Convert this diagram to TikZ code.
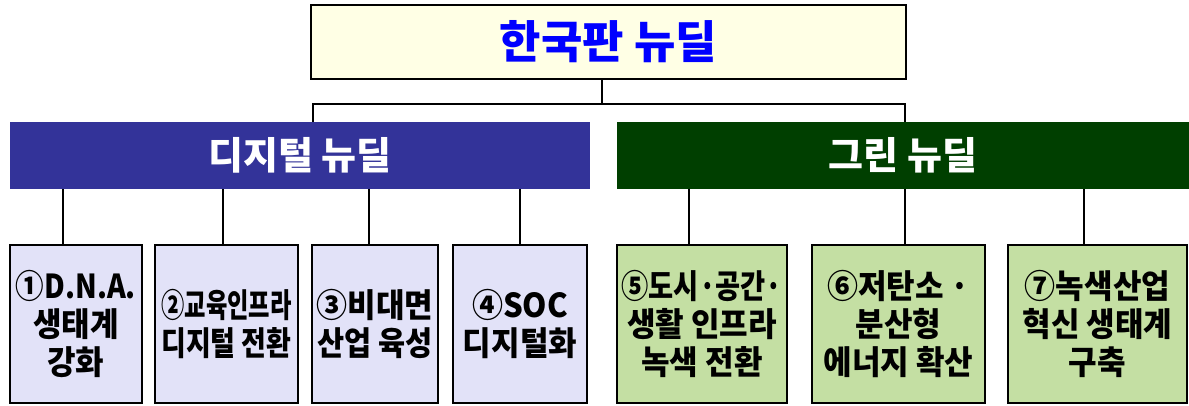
\documentclass[tikz,border=0pt]{standalone}
\usepackage{fontspec}
\setmainfont{Noto Sans CJK KR}
\newfontfamily\leaffont{Noto Sans CJK KR}[FakeStretch=0.94]
\definecolor{topfill}{HTML}{FFFFE5}
\definecolor{titleblue}{HTML}{0000FF}
\definecolor{digbar}{HTML}{333399}
\definecolor{grnbar}{HTML}{003F00}
\definecolor{lav}{HTML}{E2E2F8}
\definecolor{lgreen}{HTML}{C4DFA3}
\begin{document}
\begin{tikzpicture}[x=1pt,y=-1pt,
  topbox/.style={draw=black, line width=2pt, fill=topfill, minimum width=595, minimum height=74,
    inner sep=0, text=titleblue, font=\fontsize{45}{50}\selectfont\bfseries},
  bar/.style={minimum height=67, inner sep=0, text=white, font=\fontsize{38}{42}\selectfont\bfseries},
  leaf/.style={draw=black, line width=2pt, minimum height=158, inner sep=0, align=center,
    font=\leaffont\fontsize{33}{38}\selectfont\bfseries},
  dleaf/.style={leaf, fill=lav},
  gleaf/.style={leaf, fill=lgreen},
  link/.style={draw=black, line width=2pt}
]
\useasboundingbox (0,0) rectangle (1189,405);
\fill[white] (0,0) rectangle (1189,405);

\node[topbox] (top) at (608.5,42) {한국판 뉴딜};
\node[bar, fill=digbar, minimum width=580] (dig) at (300,155.5) {디지털 뉴딜};
\node[bar, fill=grnbar, minimum width=572] (grn) at (903,155.5) {그린 뉴딜};

\node[dleaf, minimum width=132] (c1) at (76,324) {\scalebox{0.92}[1]{①D.N.A.}\\생태계\\강화};
\node[dleaf, minimum width=143] (c2) at (226.5,324) {\scalebox{0.75}[1]{②교육인프라}\\\scalebox{0.87}[1]{디지털 전환}};
\node[dleaf, minimum width=126] (c3) at (375,324) {③비대면\\\scalebox{0.95}[1]{산업 육성}};
\node[dleaf, minimum width=134] (c4) at (520,324) {④SOC\\디지털화};
\node[gleaf, minimum width=170] (c5) at (702,324) {\scalebox{0.88}[1]{⑤도시·공간·}\\생활 인프라\\녹색 전환};
\node[gleaf, minimum width=173] (c6) at (898.5,324) {⑥저탄소 ·\\분산형\\에너지 확산};
\node[gleaf, minimum width=179] (c7) at (1097.5,324) {⑦녹색산업\\혁신 생태계\\구축};

\coordinate (busL) at (313,104);
\coordinate (busR) at (905,104);
\draw[link] ([xshift=-6.5pt]top.south) -- ([xshift=-6.5pt]top.south |- busL);
\draw[link] (dig.north -| busL) -- (busL) -- (busR) -- (grn.north -| busR);

\draw[link] ([xshift=-13pt]c1.north) -- ([xshift=-13pt]c1.north |- dig.south);
\draw[link] ([xshift=-3.5pt]c2.north) -- ([xshift=-3.5pt]c2.north |- dig.south);
\draw[link] ([xshift=-6pt]c3.north) -- ([xshift=-6pt]c3.north |- dig.south);
\draw[link] (c4.north) -- (c4.north |- dig.south);
\draw[link] ([xshift=-13pt]c5.north) -- ([xshift=-13pt]c5.north |- grn.south);
\draw[link] ([xshift=6.5pt]c6.north) -- ([xshift=6.5pt]c6.north |- grn.south);
\draw[link] ([xshift=-13.5pt]c7.north) -- ([xshift=-13.5pt]c7.north |- grn.south);
\end{tikzpicture}
\end{document}
